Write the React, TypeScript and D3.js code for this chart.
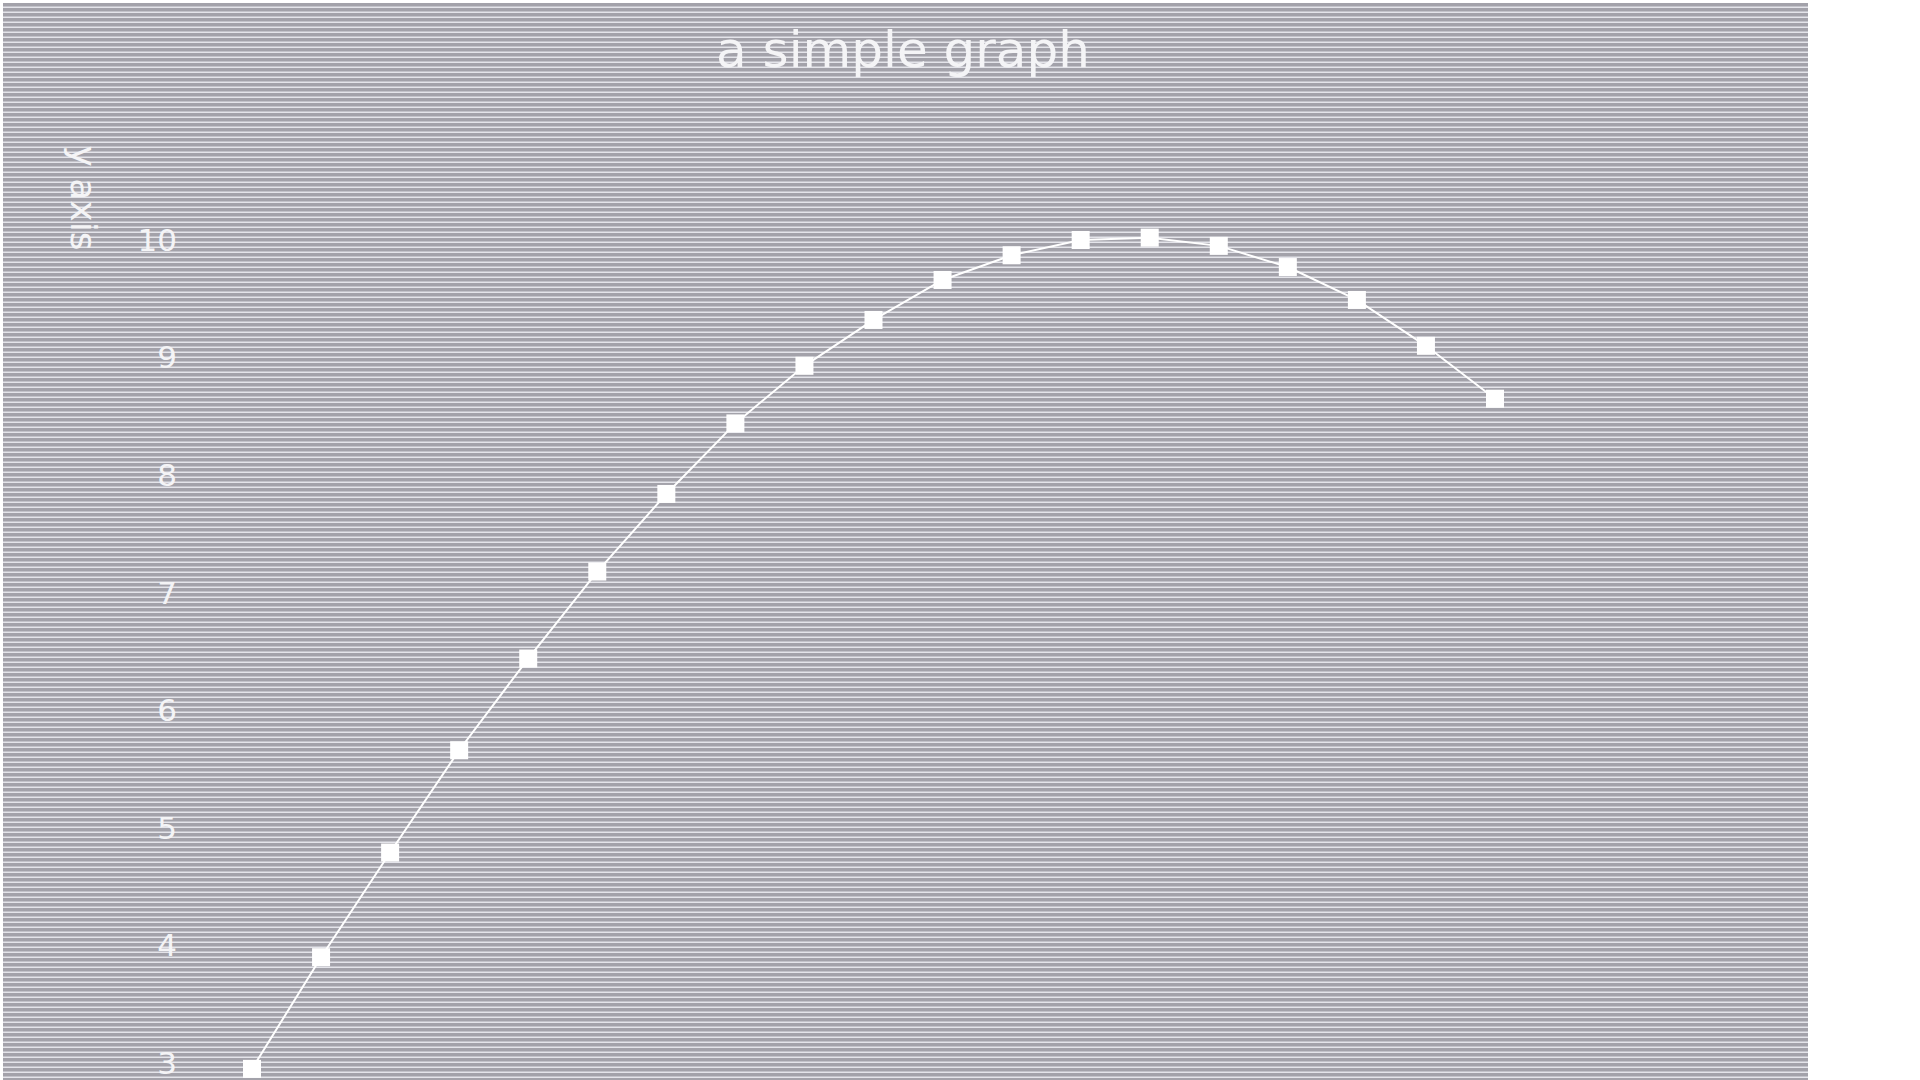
import * as d3 from "d3";

const xValues = [0, 1, 2, 3, 4, 5, 6, 7, 8, 9, 10, 11, 12, 13, 14, 15, 16, 17, 18];
const yValues = [2.95, 3.9, 4.79, 5.66, 6.44, 7.18, 7.84, 8.44, 8.93, 9.32, 9.66, 9.87, 10.0, 10.02, 9.95, 9.77, 9.49, 9.1, 8.65];
const yTicks = [3, 4, 5, 6, 7, 8, 9, 10];
const title = "a simple graph";
const yLabel = "y axis";

const W = 1805;
const H = 1400;

export default function App() {
  const x = d3.scaleLinear().domain([0, 18]).range([249, 1492]);
  const y = d3.scaleLinear().domain([3, 10]).range([1060, 237]);
  const line = d3.line<number>().x((_, i) => x(xValues[i])).y((d) => y(d));

  return (
    <svg width={W} height={H} style={{ position: "absolute", left: 3, top: 3 }}>
      <defs>
        <pattern id="stripes" width="6" height="5" patternUnits="userSpaceOnUse">
          <rect width="6" height="5" fill="#a3a2aa" />
          <rect y="3.5" width="6" height="1.5" fill="#e4e4ea" />
        </pattern>
      </defs>
      <rect width={W} height={H} fill="url(#stripes)" />
      <text x={900} y={64} textAnchor="middle" fill="#f4f4f6" fontFamily="DejaVu Sans" fontSize={50}>
        {title}
      </text>
      <text
        transform={`translate(68,195) rotate(90)`}
        textAnchor="middle"
        fill="#f4f4f6"
        fontFamily="DejaVu Sans"
        fontSize={36}
      >
        {yLabel}
      </text>
      {yTicks.map((t) => (
        <text key={t} x={174} y={y(t)} dy="0.35em" textAnchor="end" fill="#f4f4f6" fontFamily="DejaVu Sans" fontSize={31}>
          {t}
        </text>
      ))}
      <path d={line(yValues) ?? ""} fill="none" stroke="#fff" strokeWidth={2} />
      {yValues.map((v, i) => (
        <rect key={i} x={x(xValues[i]) - 9} y={y(v) - 9} width={18} height={18} fill="#fff" />
      ))}
    </svg>
  );
}
